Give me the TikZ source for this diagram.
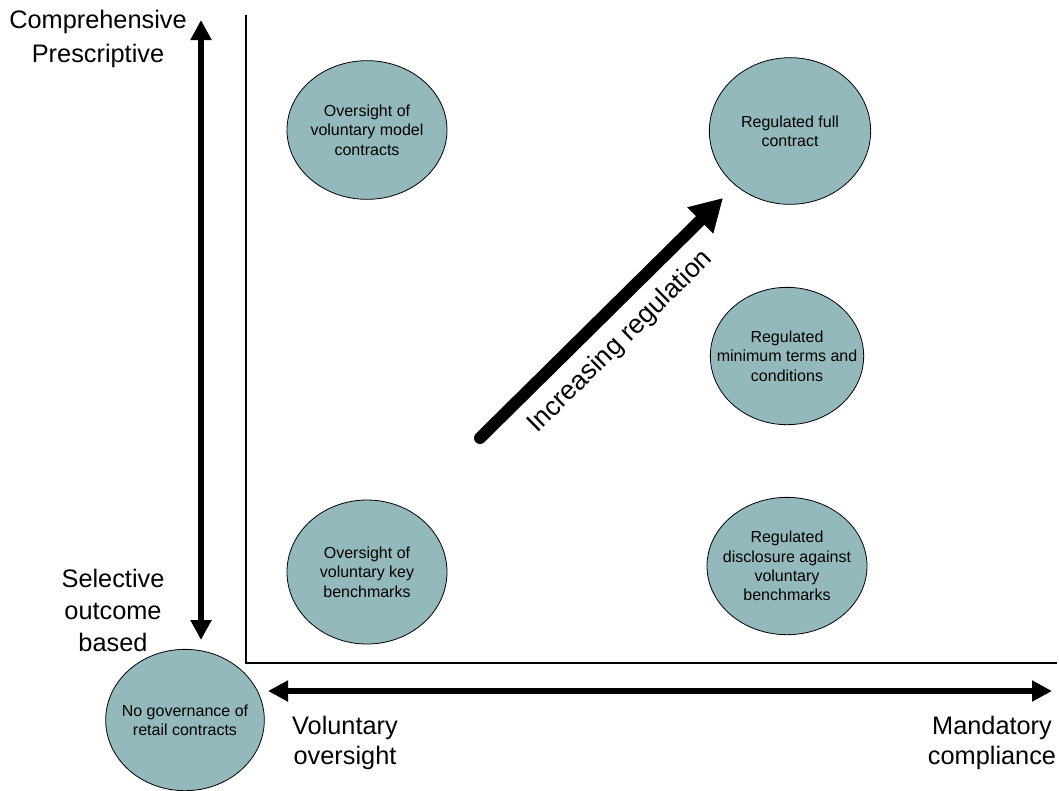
\documentclass[tikz,border=0pt]{standalone}
\usepackage{fontspec}
\setmainfont{Liberation Sans}
\usepackage{tikz}
\usepackage{xcolor}
\usetikzlibrary{arrows.meta,shapes.geometric}

\definecolor{bubblefill}{RGB}{147,185,189}
\tikzset{
  bubble/.style={ellipse, draw=black, line width=0.6pt, fill=bubblefill,
    minimum width=120pt, minimum height=104pt, inner xsep=-14pt, inner ysep=0pt,
    align=center, font=\fontsize{12}{14.5}\selectfont},
  axislabel/.style={align=center, font=\fontsize{19}{24}\selectfont},
  bigarrow/.style={line width=4.5pt,
    {Triangle[length=15pt,width=15pt]}-{Triangle[length=15pt,width=15pt]}}
}

\begin{document}
\begin{tikzpicture}[x=0.75pt, y=-0.75pt]
\useasboundingbox (0,0) rectangle (1059,790);

% frame of the chart
\coordinate (ytop) at (246,15);
\coordinate (corner) at (246,663);
\coordinate (xend) at (1057,663);
\draw[line width=1.2pt] (ytop) -- (corner) -- (xend);

% the two scales
\coordinate (vup) at (201,20);
\coordinate (vdown) at (201,640);
\coordinate (hleft) at (268,691);
\coordinate (hright) at (1052,691);
\draw[bigarrow] (vdown) -- (vup);
\draw[bigarrow] (hleft) -- (hright);

\node[axislabel, font=\fontsize{19}{25}\selectfont] (comp) at (98,39) {Comprehensive\\Prescriptive};
\node[axislabel] (sel) at (113,610) {Selective\\outcome\\based};
\node[axislabel, font=\fontsize{19}{22}\selectfont] (vol) at (345,743) {Voluntary\\oversight};
\node[axislabel, font=\fontsize{19}{22}\selectfont] (mand) at (992,743) {Mandatory\\compliance};

% regimes
\node[bubble] (model) at (367,130) {Oversight of\\voluntary model\\contracts};
\node[bubble, minimum width=121pt, minimum height=110pt] (full) at (790,131) {Regulated full\\contract};
\node[bubble, minimum width=115pt, minimum height=103pt] (minterms) at (787,356) {Regulated\\minimum terms and\\conditions};
\node[bubble, minimum height=103pt] (disclose) at (787,566) {Regulated\\disclosure against\\voluntary\\benchmarks};
\node[bubble, minimum height=108pt] (keybench) at (367,572) {Oversight of\\voluntary key\\benchmarks};
\node[bubble, minimum width=119pt, minimum height=106pt] (nogov) at (185,720) {No governance of\\retail contracts};

% direction of travel
\coordinate (rstart) at (480,438);
\coordinate (rend) at (723,198);
\draw[line width=9pt, line cap=round, -{Triangle[length=24pt,width=26pt]}] (rstart) -- (rend)
  node[pos=0.49, sloped, below=9pt, inner sep=0pt, font=\fontsize{20}{24}\selectfont] (incr) {Increasing regulation};
\end{tikzpicture}
\end{document}
